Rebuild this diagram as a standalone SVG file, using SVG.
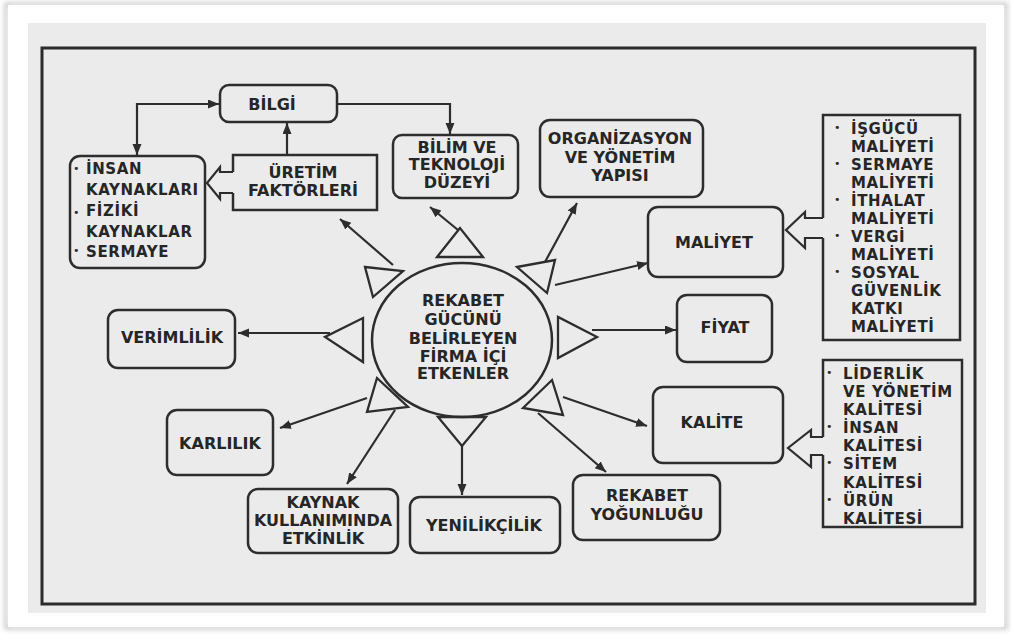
<svg xmlns="http://www.w3.org/2000/svg" width="1013" height="634" viewBox="0 0 1013 634">
  <defs>
    <style>
      .box { fill: none; stroke: #2d2d2d; stroke-width: 2.5; }
      .tri { fill: none; stroke: #2d2d2d; stroke-width: 2.3; stroke-linejoin: miter; }
      .conn { fill: none; stroke: #2d2d2d; stroke-width: 2.2; }
      .lbl { font-family: "DejaVu Sans", "Liberation Sans", sans-serif; font-weight: bold; font-size: 16px; fill: #262626; text-anchor: middle; }
      .lst { font-family: "DejaVu Sans", "Liberation Sans", sans-serif; font-weight: bold; font-size: 15px; letter-spacing: 0.6px; fill: #262626; }
      .bul { font-family: "DejaVu Sans", sans-serif; font-size: 11px; fill: #2a2a2a; }
    </style>
    <marker id="ah" markerUnits="userSpaceOnUse" markerWidth="12" markerHeight="10" refX="11" refY="4.5" orient="auto-start-reverse">
      <path d="M0,0 L11,4.5 L0,9 z" fill="#2d2d2d"/>
    </marker>
    <filter id="soft" x="-5%" y="-5%" width="110%" height="110%">
      <feGaussianBlur stdDeviation="2.5"/>
    </filter>
  </defs>

  <!-- page and scanned sheet -->
  <rect width="1013" height="634" fill="#ffffff"/>
  <rect x="6" y="4" width="1000" height="624" fill="none" stroke="#bdbdbd" stroke-width="3" filter="url(#soft)"/>
  <rect x="8" y="5" width="996" height="622" fill="#ffffff"/>
  <rect x="28" y="23" width="958" height="590" fill="#ebebeb"/>
  <rect x="42" y="48" width="933" height="556" fill="none" stroke="#2b2b2b" stroke-width="3"/>

  <!-- connectors -->
  <g id="connectors">
    <path class="conn" d="M137,155 V104 H219" marker-start="url(#ah)" marker-end="url(#ah)"/>
    <path class="conn" d="M337,104 H450 V134" marker-end="url(#ah)"/>
    <path class="conn" d="M287,155 V123" marker-end="url(#ah)"/>
    <path class="conn" d="M393,265 L340,219" marker-end="url(#ah)"/>
    <path class="conn" d="M458,230 L430,207" marker-end="url(#ah)"/>
    <path class="conn" d="M545,262 L577,203" marker-end="url(#ah)"/>
    <path class="conn" d="M555,285 L648,263" marker-end="url(#ah)"/>
    <path class="conn" d="M592,330 L676,330" marker-end="url(#ah)"/>
    <path class="conn" d="M563,397 L647,426" marker-end="url(#ah)"/>
    <path class="conn" d="M538,413 L606,472" marker-end="url(#ah)"/>
    <path class="conn" d="M462,445 L462,495" marker-end="url(#ah)"/>
    <path class="conn" d="M395,410 L347,484" marker-end="url(#ah)"/>
    <path class="conn" d="M367,398 L280,428" marker-end="url(#ah)"/>
    <path class="conn" d="M330,333 L238,333" marker-end="url(#ah)"/>
    <!-- hollow block arrows -->
    <path class="conn" d="M233,172 H220 V167 L207,183 L220,199 V193 H233"/>
    <path class="conn" d="M823,218 H805 V212 L786,230 L805,248 V238 H823"/>
    <path class="conn" d="M823,437 H811 V430 L788,448 L811,467 V455 H823"/>
  </g>

  <!-- centre node with its pointers -->
  <g id="center">
    <ellipse class="box" cx="462" cy="340" rx="90" ry="77"/>
    <polygon class="tri" points="460,228 437,257 483,257"/>
    <polygon class="tri" points="438,417 486,417 462,446"/>
    <polygon class="tri" points="363,318 363,362 325,337"/>
    <polygon class="tri" points="558,317 558,358 597,337"/>
    <polygon class="tri" points="365,267 403,271 373,297"/>
    <polygon class="tri" points="517,267 555,260 547,293"/>
    <polygon class="tri" points="377,378 367,412 408,407"/>
    <polygon class="tri" points="523,408 552,380 563,415"/>
    <text class="lbl" x="463" y="306">REKABET</text>
    <text class="lbl" x="463" y="325">GÜCÜNÜ</text>
    <text class="lbl" x="463" y="344">BELİRLEYEN</text>
    <text class="lbl" x="463" y="362">FİRMA İÇİ</text>
    <text class="lbl" x="463" y="379">ETKENLER</text>
  </g>

  <g id="bilgi">
    <rect class="box" x="220" y="85" width="117" height="37" rx="9"/>
    <text class="lbl" x="272" y="110">BİLGİ</text>
  </g>

  <g id="uretim">
    <path class="box" d="M233,172 V155 H377 V210 H233 V193"/>
    <text class="lbl" x="303" y="178">ÜRETİM</text>
    <text class="lbl" x="303" y="196">FAKTÖRLERİ</text>
  </g>

  <g id="insan">
    <rect class="box" x="70" y="156" width="135" height="112" rx="10"/>
    <text class="bul" x="73" y="172">•</text>
    <text class="bul" x="73" y="216">•</text>
    <text class="bul" x="73" y="254">•</text>
    <text class="lst" x="86" y="174" letter-spacing="-0.5">İNSAN</text>
    <text class="lst" x="86" y="195" letter-spacing="-0.5">KAYNAKLARI</text>
    <text class="lst" x="86" y="216" letter-spacing="-0.5">FİZİKİ</text>
    <text class="lst" x="86" y="237" letter-spacing="-0.5">KAYNAKLAR</text>
    <text class="lst" x="86" y="257" letter-spacing="-0.5">SERMAYE</text>
  </g>

  <g id="bilim">
    <rect class="box" x="393" y="135" width="125" height="63" rx="9"/>
    <text class="lbl" x="457" y="153">BİLİM VE</text>
    <text class="lbl" x="457" y="170">TEKNOLOJİ</text>
    <text class="lbl" x="457" y="188">DÜZEYİ</text>
  </g>

  <g id="organizasyon">
    <rect class="box" x="540" y="120" width="163" height="77" rx="10"/>
    <text class="lbl" x="620" y="144">ORGANİZASYON</text>
    <text class="lbl" x="620" y="163">VE YÖNETİM</text>
    <text class="lbl" x="620" y="181">YAPISI</text>
  </g>

  <g id="maliyet">
    <rect class="box" x="648" y="207" width="135" height="70" rx="10"/>
    <text class="lbl" x="714" y="248">MALİYET</text>
  </g>

  <g id="maliyet-list">
    <path class="box" d="M823,218 V115 H960 V340 H823 V238"/>
    <text class="bul" x="834" y="131">•</text>
    <text class="bul" x="834" y="167">•</text>
    <text class="bul" x="834" y="203">•</text>
    <text class="bul" x="834" y="239">•</text>
    <text class="bul" x="834" y="275">•</text>
    <text class="lst" x="851" y="134">İŞGÜCÜ</text>
    <text class="lst" x="851" y="152">MALİYETİ</text>
    <text class="lst" x="851" y="170">SERMAYE</text>
    <text class="lst" x="851" y="188">MALİYETİ</text>
    <text class="lst" x="851" y="206">İTHALAT</text>
    <text class="lst" x="851" y="224">MALİYETİ</text>
    <text class="lst" x="851" y="242">VERGİ</text>
    <text class="lst" x="851" y="260">MALİYETİ</text>
    <text class="lst" x="851" y="278">SOSYAL</text>
    <text class="lst" x="851" y="296">GÜVENLİK</text>
    <text class="lst" x="851" y="314">KATKI</text>
    <text class="lst" x="851" y="332">MALİYETİ</text>
  </g>

  <g id="fiyat">
    <rect class="box" x="677" y="295" width="95" height="67" rx="10"/>
    <text class="lbl" x="725" y="333">FİYAT</text>
  </g>

  <g id="kalite">
    <rect class="box" x="653" y="387" width="130" height="76" rx="10"/>
    <text class="lbl" x="712" y="428">KALİTE</text>
  </g>

  <g id="kalite-list">
    <path class="box" d="M823,437 V360 H962 V527 H823 V455"/>
    <text class="bul" x="826" y="376">•</text>
    <text class="bul" x="826" y="430">•</text>
    <text class="bul" x="826" y="466">•</text>
    <text class="bul" x="826" y="503">•</text>
    <text class="lst" x="843" y="379">LİDERLİK</text>
    <text class="lst" x="843" y="397">VE YÖNETİM</text>
    <text class="lst" x="843" y="415">KALİTESİ</text>
    <text class="lst" x="843" y="433">İNSAN</text>
    <text class="lst" x="843" y="451">KALİTESİ</text>
    <text class="lst" x="843" y="469">SİTEM</text>
    <text class="lst" x="843" y="488">KALİTESİ</text>
    <text class="lst" x="843" y="506">ÜRÜN</text>
    <text class="lst" x="843" y="524">KALİTESİ</text>
  </g>

  <g id="rekabet-yogunlugu">
    <rect class="box" x="573" y="475" width="147" height="65" rx="10"/>
    <text class="lbl" x="647" y="501">REKABET</text>
    <text class="lbl" x="647" y="520">YOĞUNLUĞU</text>
  </g>

  <g id="yenilikcilik">
    <rect class="box" x="410" y="497" width="150" height="56" rx="10"/>
    <text class="lbl" x="484" y="531">YENİLİKÇİLİK</text>
  </g>

  <g id="kaynak">
    <rect class="box" x="248" y="489" width="150" height="64" rx="10"/>
    <text class="lbl" x="323" y="508">KAYNAK</text>
    <text class="lbl" x="323" y="526" font-size="15">KULLANIMINDA</text>
    <text class="lbl" x="323" y="544">ETKİNLİK</text>
  </g>

  <g id="karlilik">
    <rect class="box" x="167" y="410" width="106" height="65" rx="10"/>
    <text class="lbl" x="220" y="449">KARLILIK</text>
  </g>

  <g id="verimlilik">
    <rect class="box" x="108" y="310" width="127" height="58" rx="10"/>
    <text class="lbl" x="172" y="343">VERİMLİLİK</text>
  </g>
</svg>
